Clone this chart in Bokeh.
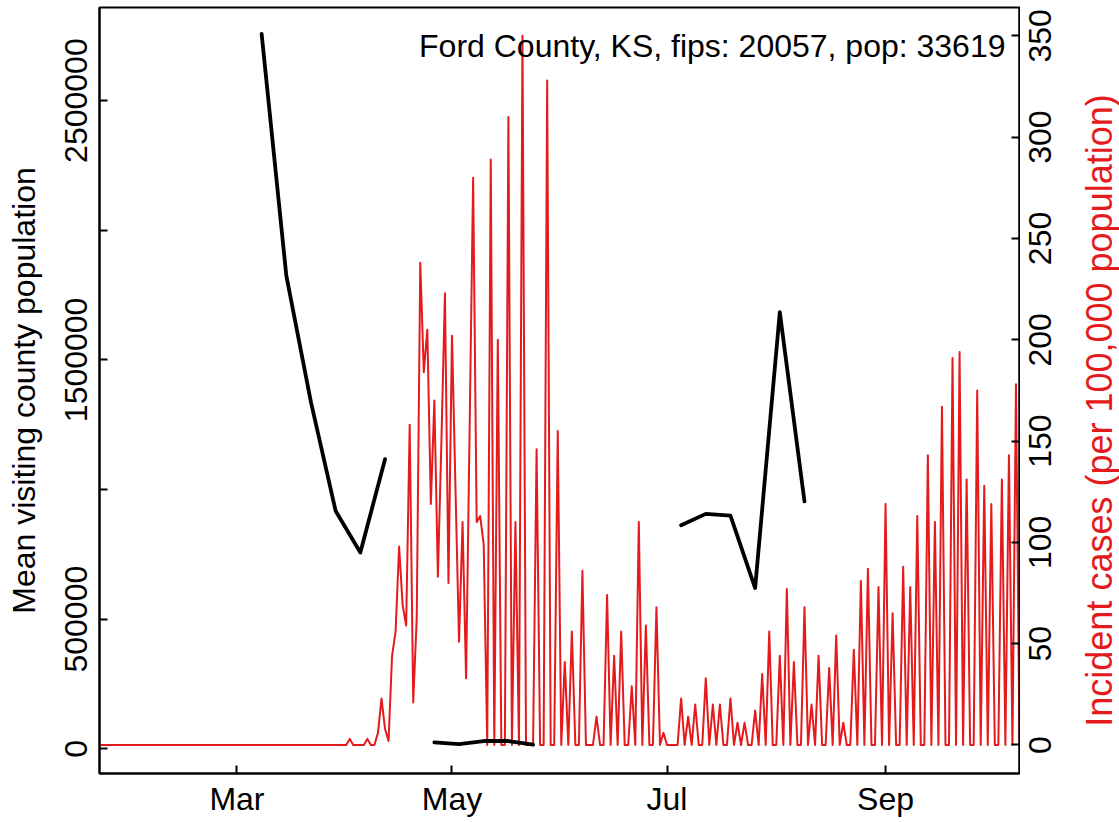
import math
import pandas as pd
from bokeh.plotting import figure
from bokeh.layouts import row
from bokeh.models import (Range1d, LinearAxis, DatetimeAxis, FixedTicker,
                          DatetimeTickFormatter, BasicTickFormatter, Label,
                          ColumnDataSource)
from bokeh.core.properties import value
from bokeh.embed import file_html
from bokeh.resources import INLINE

# ---------------- data ----------------
case_start = "2020-01-22"
# daily incident cases per 100,000 (Jan 22 .. Oct 9)
cases = [
    0, 0, 0, 0, 0, 0, 0, 0, 0, 0, 0, 0, 0, 0, 0, 0, 0, 0, 0, 0,
    0, 0, 0, 0, 0, 0, 0, 0, 0, 0, 0, 0, 0, 0, 0, 0, 0, 0, 0, 0,
    0, 0, 0, 0, 0, 0, 0, 0, 0, 0, 0, 0, 0, 0, 0, 0, 0, 0, 0, 0,
    0, 0, 0, 0, 0, 0, 0, 0, 0, 0, 0,
    3, 0, 0, 0, 0, 3, 0, 0, 6, 23,
    8, 2, 44, 56, 98, 69, 59, 158, 21, 63,
    238, 184, 205, 119, 170, 83, 150, 223, 80, 202,
    126, 51, 110, 33, 156, 280, 110, 113, 99, 0,
    289, 0, 200, 0, 0, 310, 0, 110, 0, 350,
    0, 0, 0, 146, 0, 0, 328, 0, 0, 155,
    0, 41, 0, 56, 0, 0, 86, 0, 0, 0,
    14, 0, 0, 74, 0, 44, 0, 56, 0, 0,
    29, 0, 110, 0, 59, 0, 0, 68, 0, 6,
    0, 0, 0, 0, 23, 0, 14, 0, 20, 0,
    0, 33, 0, 20, 0, 20, 0, 0, 23, 0,
    11, 0, 11, 0, 0, 17, 0, 35, 0, 56,
    0, 0, 44, 0, 77, 0, 41, 0, 0, 68,
    0, 20, 0, 44, 0, 0, 38, 0, 54, 0,
    11, 0, 0, 47, 0, 81, 0, 87, 0, 0,
    78, 0, 119, 0, 65, 0, 0, 88, 0, 78,
    0, 113, 0, 0, 143, 0, 110, 0, 167, 0,
    0, 191, 0, 194, 0, 131, 0, 0, 175, 0,
    128, 0, 119, 0, 0, 131, 0, 143, 0, 178,
    0,
]

visit_start = "2020-03-08"
nan = float("nan")
# weekly mean visiting county population (NaN = missing week)
visiting = [
    2757000, 1825000, 1336000, 917000, 757000, 1117000, nan,
    25000, 18000, 30000, 30000, 16000, nan,
    nan, nan, nan, nan,
    862000, 906000, 899000, 620000, 1684000, 954000,
]

month_ticks = ["2020-03-01", "2020-05-01", "2020-07-01", "2020-09-01"]
left_ticks = [0, 500000, 1000000, 1500000, 2000000, 2500000]
left_tick_labels = ["0", "500000", "", "1500000", "", "2500000"]
right_ticks = [0, 50, 100, 150, 200, 250, 300, 350]
right_tick_labels = ["0", "50", "100", "150", "200", "250", "300", "350"]

title_text = "Ford County, KS, fips: 20057, pop: 33619"
left_label = "Mean visiting county population"
right_label = "Incident cases (per 100,000 population)"

# ---------------- styling ----------------
FONT = "Liberation Sans"
FS = "32px"
RED = "#E41A1C"
FRAME_H = 766
TOP, BOTTOM = 7, 49

case_dates = pd.date_range(case_start, periods=len(cases), freq="D")
visit_dates = pd.date_range(visit_start, periods=len(visiting), freq="7D")

x_start = case_dates[0].to_pydatetime()
x_end = case_dates[-1].to_pydatetime()
x_end_ms = pd.Timestamp(x_end).value / 1e6

left_range = Range1d(-95300, 2859000)
right_range = Range1d(-14.07, 364.0)

p = figure(width=1020, height=822, output_backend="svg", toolbar_location=None,
           x_axis_type=None, y_axis_type=None,
           x_range=Range1d(x_start, x_end), y_range=left_range,
           min_border_left=99, min_border_right=1,
           min_border_top=TOP, min_border_bottom=BOTTOM)
p.extra_y_ranges = {"cases": right_range}
p.background_fill_color = "white"
p.border_fill_color = "white"
p.outline_line_color = "black"
p.outline_line_width = 2
p.xgrid.visible = False
p.ygrid.visible = False


def style_axis(ax):
    ax.axis_line_width = 2
    ax.axis_line_color = "black"
    ax.major_tick_in = 8
    ax.major_tick_out = 0
    ax.major_tick_line_width = 2
    ax.major_tick_line_color = "black"
    ax.minor_tick_line_color = None
    ax.major_label_text_font = FONT
    ax.major_label_text_font_size = FS
    ax.major_label_text_color = "black"
    ax.axis_label_text_font = FONT
    ax.axis_label_text_font_size = FS
    ax.axis_label_text_font_style = "normal"
    ax.axis_label_text_color = "black"


# x axis
month_ms = [pd.Timestamp(t).value / 1e6 for t in month_ticks]
xaxis = DatetimeAxis(ticker=FixedTicker(ticks=month_ms),
                     formatter=DatetimeTickFormatter(months="%b", days="%b",
                                                     hours="%b", years="%b"))
style_axis(xaxis)
xaxis.major_label_standoff = 7
p.add_layout(xaxis, "below")

# left axis
laxis = LinearAxis(ticker=FixedTicker(ticks=left_ticks),
                   formatter=BasicTickFormatter(use_scientific=False),
                   axis_label=left_label)
laxis.major_label_overrides = {t: s for t, s in zip(left_ticks, left_tick_labels)}
style_axis(laxis)
laxis.major_label_orientation = "vertical"
laxis.major_label_standoff = 12
laxis.axis_label_standoff = 21
p.add_layout(laxis, "left")

# right axis (ticks only; its labels are drawn in the side panel)
raxis = LinearAxis(y_range_name="cases", ticker=FixedTicker(ticks=right_ticks))
style_axis(raxis)
raxis.major_label_overrides = {t: "" for t in right_ticks}
raxis.major_label_standoff = 0
p.add_layout(raxis, "right")

# series
src_cases = ColumnDataSource(dict(x=case_dates, y=cases))
p.line("x", "y", source=src_cases, y_range_name="cases", line_color=RED,
       line_width=2, line_join="round")

src_visit = ColumnDataSource(dict(x=visit_dates, y=visiting))
p.line("x", "y", source=src_visit, line_color="black", line_width=3.8,
       line_join="round", line_cap="round")

# title inside plot
y_title = left_range.end - 38 * (left_range.end - left_range.start) / FRAME_H
p.add_layout(Label(x=x_end_ms, y=y_title, x_offset=-14,
                   text=title_text, text_align="right",
                   text_baseline="alphabetic", text_font=FONT,
                   text_font_size=FS, text_color="black"))

# ---------------- right-hand panel: tick labels + axis title ----------------
side = figure(width=99, height=822, output_backend="svg", toolbar_location=None,
              x_axis_type=None, y_axis_type=None,
              x_range=Range1d(0, 99), y_range=right_range,
              min_border_left=0, min_border_right=0,
              min_border_top=TOP, min_border_bottom=BOTTOM)
side.outline_line_color = None
side.xgrid.visible = False
side.ygrid.visible = False
side.background_fill_color = "white"
side.border_fill_color = "white"

tick_src = ColumnDataSource(dict(x=[19] * len(right_ticks), y=right_ticks,
                                 text=right_tick_labels))
side.text("x", "y", text="text", source=tick_src, angle=math.pi / 2,
          text_align="center", text_baseline="alphabetic",
          text_font=value(FONT), text_font_size=value(FS), text_color="black")

# centre of the right-axis title, 20 px below the frame centre
px_per_case = FRAME_H / (right_range.end - right_range.start)
mid_cases = (right_range.start + right_range.end) / 2 - 20 / px_per_case
side.text(x=[79], y=[mid_cases], text=[right_label], angle=math.pi / 2,
          text_align="center", text_baseline="alphabetic",
          text_font=value(FONT), text_font_size=value("36px"), text_color=RED)

layout = row(p, side, spacing=0)
open("out.html", "w").write(file_html(layout, INLINE))
